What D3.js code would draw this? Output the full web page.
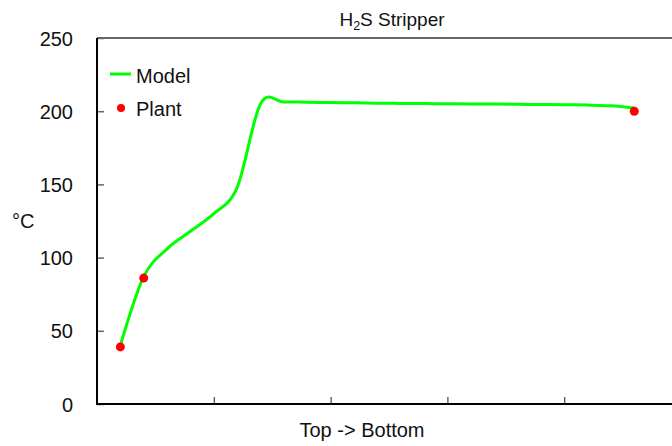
<!DOCTYPE html>
<html>
<head>
<meta charset="utf-8">
<script src="https://cdn.jsdelivr.net/npm/d3@7"></script>
<style>
  body { margin: 0; background: #fff; }
  svg { display: block; font-family: "Liberation Sans", Arial, sans-serif; }
</style>
</head>
<body>
<div id="viz-container"></div>
<script>
// stage numbers, top of column = 1
let modelStages = d3.range(1, 24);
// model temperature profile, one value per stage (°C)
let modelTemps = [40, 87, 106, 118, 130, 148, 205, 206.3, 206.1, 205.9, 205.7, 205.5,
    205.3, 205.2, 205.1, 205, 204.9, 204.7, 204.6, 204.4, 204.2, 203.7, 202.2];
// plant measurements
let plantStages = [1, 2, 23];
let plantTemps = [39, 86, 200];
let yTicks = [0, 50, 100, 150, 200, 250];
let xTicks = [5, 10, 15, 20, 25];

let width = 672, height = 446;
let plotLeft = 97, plotRight = 681, plotTop = 38, plotBottom = 404;

let viz = d3.select("#viz-container")
    .append("svg")
    .attr("width", width)
    .attr("height", height);

let x = d3.scaleLinear().domain([0, 25]).range([plotLeft, plotRight]);
let y = d3.scaleLinear().domain([0, 250]).range([plotBottom, plotTop]);

//frame top/right
viz.append("path")
    .attr("d", "M" + plotLeft + "," + plotTop + "H" + plotRight + "V" + plotBottom)
    .attr("fill", "none")
    .attr("stroke", "#333")
    .attr("stroke-width", 1.3);

//y axis, ticks pointing inward
let yAxis = viz.append("g")
    .attr("transform", "translate(" + plotLeft + ",0)")
    .call(d3.axisRight(y).tickValues(yTicks).tickSize(7).tickFormat(""));
yAxis.select(".domain").remove();
yAxis.selectAll("line").attr("stroke", "#666").attr("stroke-width", 1.5);

viz.selectAll(".ylabel").data(yTicks).enter().append("text")
    .attr("class", "ylabel")
    .attr("x", 73)
    .attr("y", d => y(d) + 7.5)
    .attr("text-anchor", "end")
    .attr("font-size", 20)
    .attr("fill", "#111")
    .text(d => d);

//x axis, ticks inward, no labels
let xAxis = viz.append("g")
    .attr("transform", "translate(0," + plotBottom + ")")
    .call(d3.axisTop(x).tickValues(xTicks).tickSize(7).tickFormat(""));
xAxis.select(".domain").remove();
xAxis.selectAll("line").attr("stroke", "#444").attr("stroke-width", 1.2);

//main axis lines
viz.append("line")
    .attr("x1", plotLeft).attr("x2", plotLeft).attr("y1", plotTop).attr("y2", plotBottom + 1)
    .attr("stroke", "#000").attr("stroke-width", 2);
viz.append("line")
    .attr("x1", plotLeft - 1).attr("x2", plotRight).attr("y1", plotBottom).attr("y2", plotBottom)
    .attr("stroke", "#000").attr("stroke-width", 2);

//model line
let line = d3.line()
    .x((d, i) => x(modelStages[i]))
    .y(d => y(d))
    .curve(d3.curveCardinal.tension(0));

viz.append("path")
    .datum(modelTemps)
    .attr("d", line)
    .attr("fill", "none")
    .attr("stroke", "#00ff00")
    .attr("stroke-width", 3);

//plant points
viz.selectAll(".plant").data(plantTemps).enter().append("circle")
    .attr("class", "plant")
    .attr("cx", (d, i) => x(plantStages[i]))
    .attr("cy", d => y(d))
    .attr("r", 4.5)
    .attr("fill", "#ff0000");

//title
let title = viz.append("text")
    .attr("x", 392)
    .attr("y", 26)
    .attr("text-anchor", "middle")
    .attr("font-size", 19)
    .attr("fill", "#111");
title.append("tspan").text("H");
title.append("tspan").attr("font-size", 12.5).attr("dy", 4).text("2");
title.append("tspan").attr("dy", -4).text("S Stripper");

//axis titles
viz.append("text")
    .attr("x", 362).attr("y", 437)
    .attr("text-anchor", "middle")
    .attr("font-size", 20)
    .attr("fill", "#111")
    .text("Top -> Bottom");

viz.append("text")
    .attr("x", 12).attr("y", 228)
    .attr("font-size", 20)
    .attr("fill", "#111")
    .text("°C");

//legend
viz.append("line")
    .attr("x1", 110).attr("x2", 131).attr("y1", 74).attr("y2", 74)
    .attr("stroke", "#00ff00").attr("stroke-width", 3);
viz.append("text")
    .attr("x", 136).attr("y", 83)
    .attr("font-size", 20).attr("fill", "#111")
    .text("Model");
viz.append("circle")
    .attr("cx", 121).attr("cy", 108).attr("r", 4)
    .attr("fill", "#ff0000");
viz.append("text")
    .attr("x", 136).attr("y", 116)
    .attr("font-size", 20).attr("fill", "#111")
    .text("Plant");
</script>
</body>
</html>
